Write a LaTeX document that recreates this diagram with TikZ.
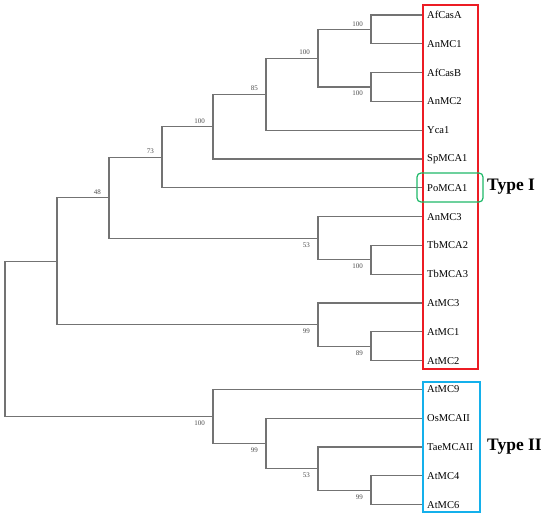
\documentclass[tikz,border=0pt]{standalone}
\usepackage{fontspec}
\setmainfont{Liberation Serif}
\usetikzlibrary{positioning}

\definecolor{treegray}{RGB}{115,115,115}
\definecolor{typeIred}{RGB}{236,28,36}
\definecolor{typeIIblue}{RGB}{20,176,235}
\definecolor{poGreen}{RGB}{30,185,105}

\newcommand{\treeLineWidth}{1.2pt}
\newcommand{\boxLineWidth}{2pt}
\newcommand{\tipX}{423}
\newcommand{\firstY}{15}
\newcommand{\rowH}{28.8}

\begin{document}
\begin{tikzpicture}[x=1pt,y=-1pt,
    leaf/.style={anchor=west, inner xsep=4pt, inner ysep=0pt, font=\fontsize{10.5}{12}\selectfont},
    branch/.style={draw=treegray, line width=\treeLineWidth},
    boot/.style={inner sep=0pt, text=black!70, font=\fontsize{7}{8}\selectfont},
    bootup/.style={boot, above left=3pt and 8pt of #1},
    bootdown/.style={boot, below left=4pt and 8pt of #1},
    typelabel/.style={anchor=west, inner sep=0pt, font=\fontsize{17.5}{20}\bfseries\selectfont}]
    \useasboundingbox (0,0) rectangle (550,519);

    % Leaves
    \foreach \name [count=\i from 0] in {AfCasA,AnMC1,AfCasB,AnMC2,Yca1,SpMCA1,PoMCA1,AnMC3,TbMCA2,TbMCA3,AtMC3,AtMC1,AtMC2,AtMC9,OsMCAII,TaeMCAII,AtMC4,AtMC6}
        \node[leaf] (\name) at (\tipX,\firstY+\rowH*\i) {\name};

    % Internal nodes
    \coordinate (nA) at (371,29.4);
    \coordinate (nB) at (371,87);
    \coordinate (nC) at (318,58.2);
    \coordinate (nD) at (266,94.2);
    \coordinate (nE) at (213,126.6);
    \coordinate (nF) at (162,157.2);
    \coordinate (nG) at (371,259.8);
    \coordinate (nH) at (318,238.2);
    \coordinate (nI) at (109,197.7);
    \coordinate (nJ) at (371,346.2);
    \coordinate (nK) at (318,324.6);
    \coordinate (nL) at (57,261.15);
    \coordinate (nM) at (371,490.2);
    \coordinate (nN) at (318,468.6);
    \coordinate (nO) at (266,443.4);
    \coordinate (nP) at (213,416.4);
    \coordinate (nR) at (5,338.8);

    % Draw type I clades
    \draw[branch] (AfCasA.west) -| (nA) |- (AnMC1.west);
    \draw[branch] (AfCasB.west) -| (nB) |- (AnMC2.west);
    \draw[branch] (nA) -| (nC) |- (nB);
    \draw[branch] (nC) -| (nD) |- (Yca1.west);
    \draw[branch] (nD) -| (nE) |- (SpMCA1.west);
    \draw[branch] (nE) -| (nF) |- (PoMCA1.west);
    \draw[branch] (TbMCA2.west) -| (nG) |- (TbMCA3.west);
    \draw[branch] (AnMC3.west) -| (nH) |- (nG);
    \draw[branch] (nF) -| (nI) |- (nH);
    \draw[branch] (AtMC1.west) -| (nJ) |- (AtMC2.west);
    \draw[branch] (AtMC3.west) -| (nK) |- (nJ);
    \draw[branch] (nI) -| (nL) |- (nK);

    % Draw type II clades
    \draw[branch] (AtMC4.west) -| (nM) |- (AtMC6.west);
    \draw[branch] (TaeMCAII.west) -| (nN) |- (nM);
    \draw[branch] (OsMCAII.west) -| (nO) |- (nN);
    \draw[branch] (AtMC9.west) -| (nP) |- (nO);
    \draw[branch] (nL) -| (nR) |- (nP);

    % Bootstrap values
    \node[bootup=nA] (bA) {100};
    \node[bootdown=nB] (bB) {100};
    \node[bootup=nC] (bC) {100};
    \node[bootup=nD] (bD) {85};
    \node[bootup=nE] (bE) {100};
    \node[bootup=nF] (bF) {73};
    \node[bootdown=nG] (bG) {100};
    \node[bootdown=nH] (bH) {53};
    \node[bootup=nI] (bI) {48};
    \node[bootdown=nJ] (bJ) {89};
    \node[bootdown=nK] (bK) {99};
    \node[bootdown=nM] (bM) {99};
    \node[bootdown=nN] (bN) {53};
    \node[bootdown=nO] (bO) {99};
    \node[bootdown=nP] (bP) {100};

    % Group frames
    \draw[typeIred, line width=\boxLineWidth] (423,5) rectangle (478,369);
    \draw[typeIIblue, line width=\boxLineWidth] (423,382) rectangle (480,512);
    \draw[poGreen, line width=1.2pt, rounded corners=4pt] (417,173) rectangle (483,202);

    % Group names
    \node[typelabel] (typeI) at (487,187) {Type I};
    \node[typelabel] (typeII) at (487,447) {Type II};
\end{tikzpicture}
\end{document}
